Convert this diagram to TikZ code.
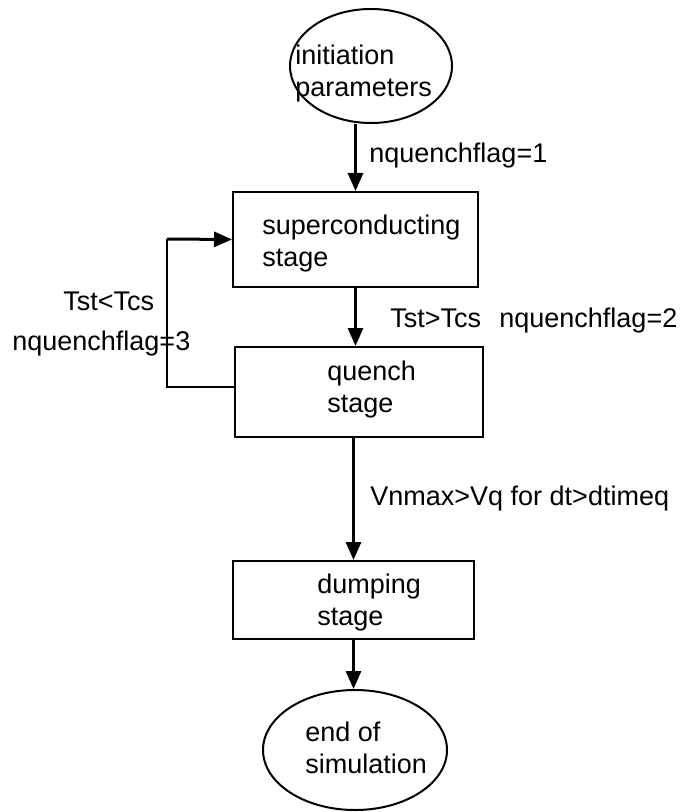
\documentclass[tikz,border=0pt]{standalone}
\usepackage{fontspec}
\setmainfont{Liberation Sans}
\usetikzlibrary{arrows.meta,shapes.geometric,calc,positioning}
\tikzset{
  etapa/.style={draw,line width=1pt,rectangle,inner sep=0pt},
  extremo/.style={draw,line width=1pt,ellipse,inner sep=0pt},
  texto/.style={inner sep=0pt,align=left,anchor=base west,font=\fontsize{13.5}{16}\selectfont},
  flecha/.style={line width=1.5pt,-{Triangle[length=9pt,width=7.5pt]}},
  linea/.style={line width=1pt}
}

\begin{document}
\begin{tikzpicture}[x=0.5pt,y=-0.5pt]
\useasboundingbox (0,0) rectangle (686,812);
\node[extremo,minimum width=81pt,minimum height=57pt] (ini) at (371,66) {};
\node[etapa,minimum width=122.5pt,minimum height=47.5pt] (sc) at (355.5,239.5) {};
\node[etapa,minimum width=124pt,minimum height=45pt] (que) at (359,392) {};
\node[etapa,minimum width=120.5pt,minimum height=39pt] (dum) at (353.5,600) {};
\node[extremo,minimum width=92pt,minimum height=60pt] (fin) at (355,750) {};
\node[texto] (tini) at (295,97) {initiation\\parameters};
\node[texto] (tsc) at (262,267) {superconducting\\stage};
\node[texto] (tque) at (327,412) {quench\\stage};
\node[texto] (tdum) at (317,625) {dumping\\stage};
\node[texto] (tfin) at (305,773) {end of\\simulation};
\node[texto] (c1) at (369,163) {nquenchflag=1};
\node[texto] (c2) at (390,328) {Tst>Tcs};
\node[texto] (c3) at (499,327) {nquenchflag=2};
\node[texto] (c4) at (63,310) {Tst<Tcs};
\node[texto] (c5) at (12,350) {nquenchflag=3};
\node[texto] (c6) at (370,505) {Vnmax>Vq for dt>dtimeq};
\draw[flecha] (sc.north |- ini.south) -- (sc.north);
\draw[flecha] (sc.south) -- (sc.south |- que.north);
\draw[flecha] (que.south -| dum.north) -- (dum.north);
\draw[flecha] (dum.south) -- (dum.south |- fin.north);
\coordinate (vuelta) at (167,239);
\draw[linea] ([yshift=2.5pt]que.west) -| (vuelta);
\draw[flecha] (vuelta) -- (sc.west);
\end{tikzpicture}
\end{document}
